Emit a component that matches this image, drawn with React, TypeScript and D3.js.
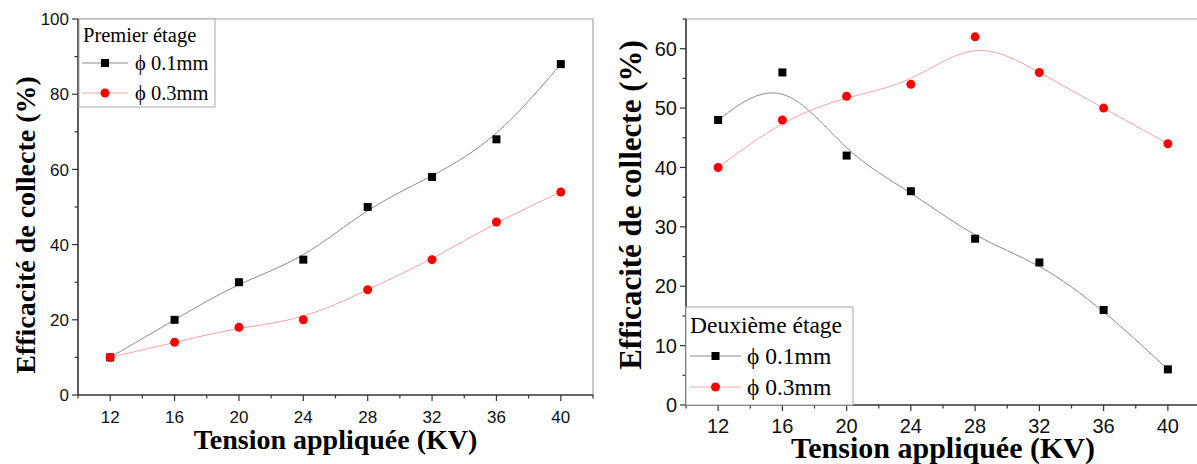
import React from "react";
import * as d3 from "d3";

const voltages = [12, 16, 20, 24, 28, 32, 36, 40];
const stage1Fine = [10, 20, 30, 36, 50, 58, 68, 88];
const stage1Coarse = [10, 14, 18, 20, 28, 36, 46, 54];
const stage2Fine = [48, 56, 42, 36, 28, 24, 16, 6];
const stage2Coarse = [40, 48, 52, 54, 62, 56, 50, 44];

const xMajorTicks = [12, 16, 20, 24, 28, 32, 36, 40];
const xMinorTicks = [10, 14, 18, 22, 26, 30, 34, 38, 42];
const y1MajorTicks = [0, 20, 40, 60, 80, 100];
const y1MinorTicks = [10, 30, 50, 70, 90];
const y2MajorTicks = [0, 10, 20, 30, 40, 50, 60];
const y2MinorTicks = [5, 15, 25, 35, 45, 55, 65];

const legendLabels = ["\u03D5 0.1mm", "\u03D5 0.3mm"];
const xTitle = "Tension appliquée (KV)";
const yTitle = "Efficacité de collecte (%)";

const SERIF = "'Liberation Serif', 'Times New Roman', serif";
const SANS = "'Liberation Sans', Arial, sans-serif";
const FINE_LINE = "#8c8c8c";
const COARSE_LINE = "#f4a3a3";

type PanelProps = {
  x0: number; x1: number; yTop: number; yBot: number;
  yDomain: [number, number];
  yMajor: number[]; yMinor: number[];
  fine: number[]; coarse: number[];
  tickFont: number; titleFont: number; yTitleFont: number;
  xLabelY: number; xTitleY: number; yTitleX: number; yTitleCY: number;
  legend: { title: string; x: number; y: number; w: number; h: number; font: number; titleY: number; rowY: number[]; lineX0: number; lineX1: number; textX: number };
};

function Panel(p: PanelProps) {
  const x = d3.scaleLinear().domain([10, 42]).range([p.x0, p.x1]);
  const y = d3.scaleLinear().domain(p.yDomain).range([p.yBot, p.yTop]);
  const line = d3.line<number>().x((_, i) => x(voltages[i])).y((d) => y(d)).curve(d3.curveBasis);
  const legLine = (cy: number) => `M${p.legend.lineX0},${cy}L${p.legend.lineX1},${cy}`;
  const mx = (p.legend.lineX0 + p.legend.lineX1) / 2;
  return (
    <g>
      <path d={`M${p.x0},${p.yTop}H${p.x1}V${p.yBot}`} fill="none" stroke="#a8a8a8" strokeWidth={1.2} />
      <path d={line(p.fine) || ""} fill="none" stroke={FINE_LINE} strokeWidth={1} />
      <path d={line(p.coarse) || ""} fill="none" stroke={COARSE_LINE} strokeWidth={1} />
      {p.fine.map((v, i) => (
        <rect key={"f" + i} x={x(voltages[i]) - 4} y={y(v) - 4} width={8} height={8} fill="#000" />
      ))}
      {p.coarse.map((v, i) => (
        <circle key={"c" + i} cx={x(voltages[i])} cy={y(v)} r={4.5} fill="#ff0000" />
      ))}
      <line x1={p.x0} x2={p.x0} y1={p.yTop} y2={p.yBot} stroke="#333" strokeWidth={1.6} />
      <line x1={p.x0} x2={p.x1} y1={p.yBot} y2={p.yBot} stroke="#333" strokeWidth={1.6} />
      {xMajorTicks.map((t) => (
        <g key={"xm" + t}>
          <line x1={x(t)} x2={x(t)} y1={p.yBot} y2={p.yBot + 6} stroke="#333" strokeWidth={1.2} />
          <text x={x(t)} y={p.xLabelY} textAnchor="middle" fontFamily={SANS} fontSize={p.tickFont} fill="#111">{t}</text>
        </g>
      ))}
      {xMinorTicks.map((t) => (
        <line key={"xn" + t} x1={x(t)} x2={x(t)} y1={p.yBot} y2={p.yBot + 3.5} stroke="#333" strokeWidth={1.2} />
      ))}
      {p.yMajor.map((t) => (
        <g key={"ym" + t}>
          <line x1={p.x0 - 6} x2={p.x0} y1={y(t)} y2={y(t)} stroke="#333" strokeWidth={1.2} />
          <text x={p.x0 - 9} y={y(t)} dy="0.36em" textAnchor="end" fontFamily={SANS} fontSize={p.tickFont} fill="#111">{t}</text>
        </g>
      ))}
      {p.yMinor.map((t) => (
        <line key={"yn" + t} x1={p.x0 - 3.5} x2={p.x0} y1={y(t)} y2={y(t)} stroke="#333" strokeWidth={1.2} />
      ))}
      <text x={(p.x0 + p.x1) / 2} y={p.xTitleY} textAnchor="middle" fontFamily={SERIF} fontWeight="bold" fontSize={p.titleFont} fill="#000">{xTitle}</text>
      <text transform={`translate(${p.yTitleX},${p.yTitleCY}) rotate(-90)`} textAnchor="middle" fontFamily={SERIF} fontWeight="bold" fontSize={p.yTitleFont} fill="#000">{yTitle}</text>
      <rect x={p.legend.x} y={p.legend.y} width={p.legend.w} height={p.legend.h} fill="#fff" stroke="#a8a8a8" strokeWidth={1} />
      <text x={p.legend.x + 4} y={p.legend.titleY} fontFamily={SERIF} fontSize={p.legend.font} fill="#000">{p.legend.title}</text>
      <path d={legLine(p.legend.rowY[0])} stroke={FINE_LINE} strokeWidth={1} />
      <rect x={mx - 4} y={p.legend.rowY[0] - 4} width={8} height={8} fill="#000" />
      <text x={p.legend.textX} y={p.legend.rowY[0]} dy="0.33em" fontFamily={SERIF} fontSize={p.legend.font} fill="#000">{legendLabels[0]}</text>
      <path d={legLine(p.legend.rowY[1])} stroke={COARSE_LINE} strokeWidth={1} />
      <circle cx={mx} cy={p.legend.rowY[1]} r={4.5} fill="#ff0000" />
      <text x={p.legend.textX} y={p.legend.rowY[1]} dy="0.33em" fontFamily={SERIF} fontSize={p.legend.font} fill="#000">{legendLabels[1]}</text>
    </g>
  );
}

export default function App() {
  return (
    <div style={{ position: "absolute", left: 0, top: 0 }}>
      <svg width={1197} height={464} style={{ display: "block", background: "#fff" }}>
        <Panel
          x0={78} x1={593} yTop={19} yBot={395}
          yDomain={[0, 100]} yMajor={y1MajorTicks} yMinor={y1MinorTicks}
          fine={stage1Fine} coarse={stage1Coarse}
          tickFont={17} titleFont={28} yTitleFont={28}
          xLabelY={423} xTitleY={449} yTitleX={35} yTitleCY={225}
          legend={{ title: "Premier étage", x: 79, y: 19, w: 136, h: 88, font: 20.5, titleY: 42, rowY: [63, 93], lineX0: 82, lineX1: 128, textX: 135 }}
        />
        <Panel
          x0={686} x1={1200} yTop={19} yBot={405}
          yDomain={[0, 65]} yMajor={y2MajorTicks} yMinor={y2MinorTicks}
          fine={stage2Fine} coarse={stage2Coarse}
          tickFont={20} titleFont={30} yTitleFont={31}
          xLabelY={433} xTitleY={458} yTitleX={641} yTitleCY={205}
          legend={{ title: "Deuxième étage", x: 686, y: 307, w: 167, h: 98, font: 23.5, titleY: 333, rowY: [356, 387], lineX0: 690, lineX1: 741, textX: 747 }}
        />
      </svg>
    </div>
  );
}
